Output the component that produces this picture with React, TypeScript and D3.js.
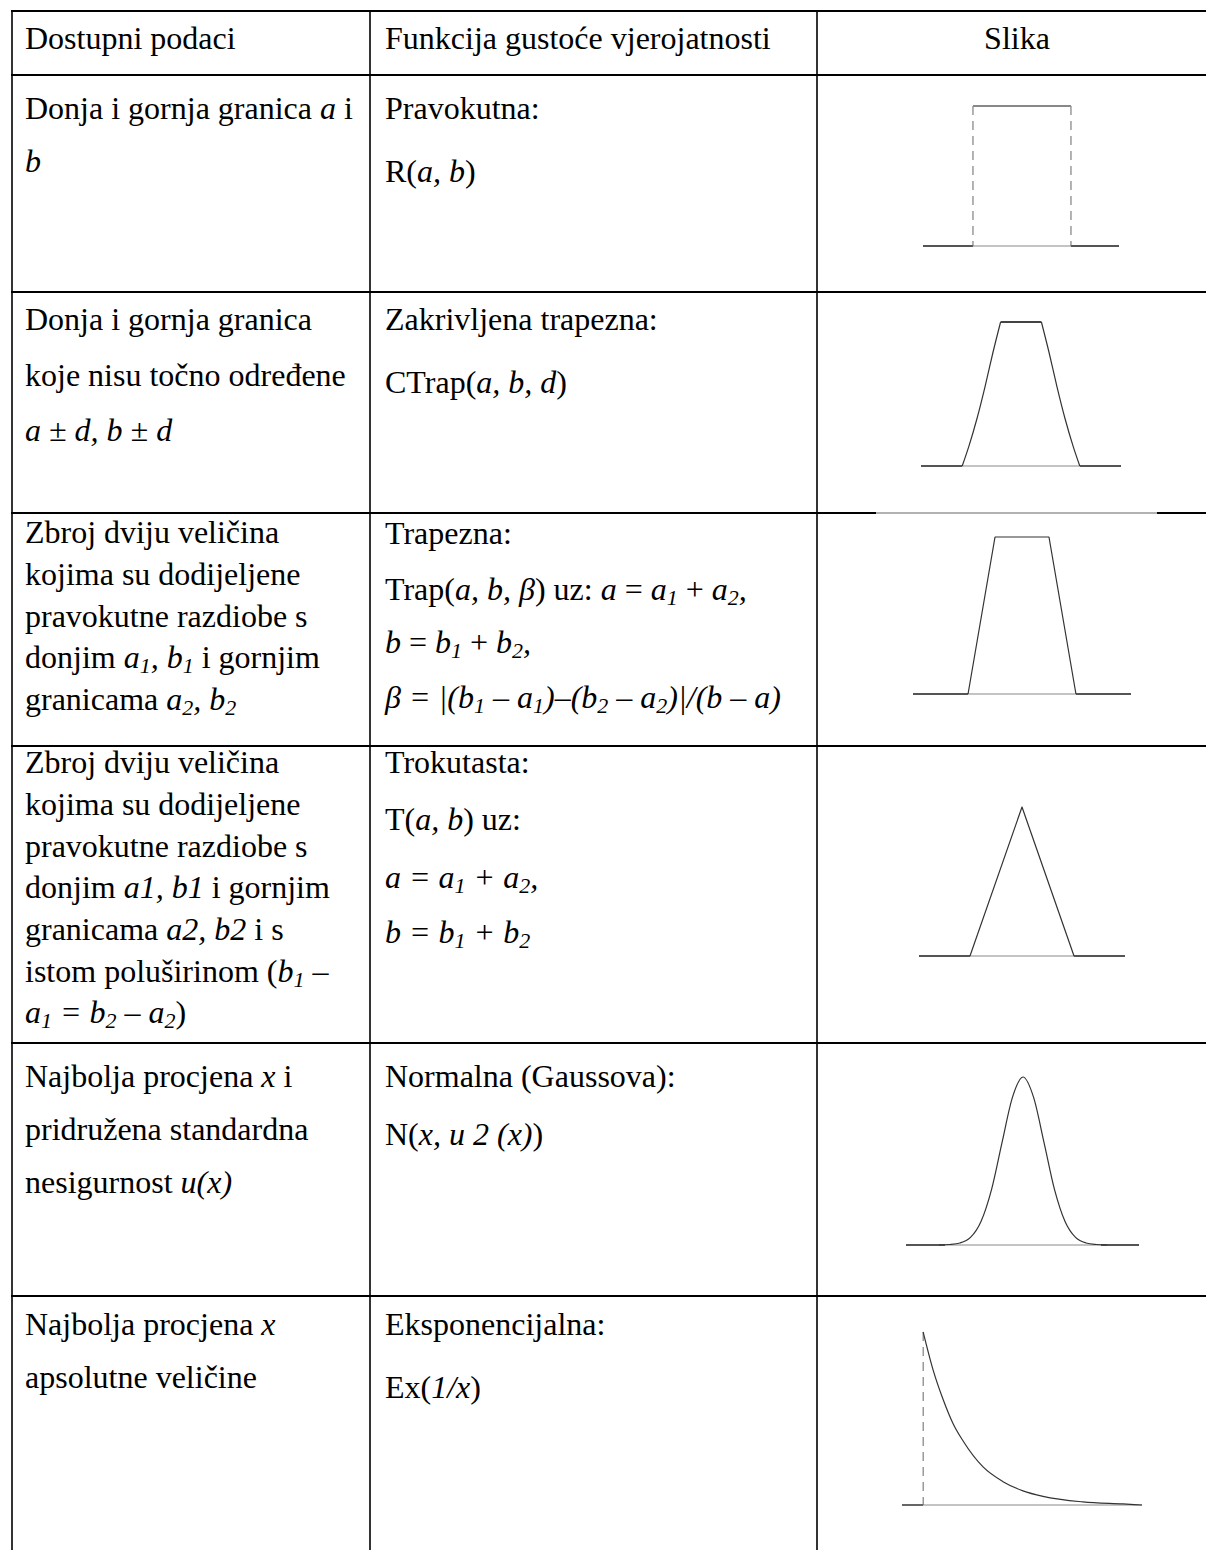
import React from 'react';
import * as d3 from 'd3';

// ---------- text content ----------
type Seg = [string, string]; // [text, style]  n = normal, i = italic, s = italic subscript
type Line = string | Seg[];

const headers: string[] = ['Dostupni podaci', 'Funkcija gustoće vjerojatnosti', 'Slika'];

const availableData: Line[][] = [
  [[['Donja i gornja granica ', 'n'], ['a', 'i'], [' i', 'n']], [['b', 'i']]],
  ['Donja i gornja granica', 'koje nisu točno određene', [['a ± d, b ± d', 'i']]],
  [
    'Zbroj dviju veličina',
    'kojima su dodijeljene',
    'pravokutne razdiobe s',
    [['donjim ', 'n'], ['a', 'i'], ['1', 's'], [', b', 'i'], ['1', 's'], [' i gornjim', 'n']],
    [['granicama ', 'n'], ['a', 'i'], ['2', 's'], [', b', 'i'], ['2', 's']],
  ],
  [
    'Zbroj dviju veličina',
    'kojima su dodijeljene',
    'pravokutne razdiobe s',
    [['donjim ', 'n'], ['a1, b1', 'i'], [' i gornjim', 'n']],
    [['granicama ', 'n'], ['a2, b2', 'i'], [' i s', 'n']],
    [['istom poluširinom (', 'n'], ['b', 'i'], ['1', 's'], [' –', 'n']],
    [['a', 'i'], ['1', 's'], [' = b', 'i'], ['2', 's'], [' – a', 'i'], ['2', 's'], [')', 'n']],
  ],
  [[['Najbolja procjena ', 'n'], ['x', 'i'], [' i', 'n']], 'pridružena standardna', [['nesigurnost ', 'n'], ['u(x)', 'i']]],
  [[['Najbolja procjena ', 'n'], ['x', 'i']], 'apsolutne veličine'],
];

const densityFunctions: Line[][] = [
  ['Pravokutna:', [['R(', 'n'], ['a, b', 'i'], [')', 'n']]],
  ['Zakrivljena trapezna:', [['CTrap(', 'n'], ['a, b, d', 'i'], [')', 'n']]],
  [
    'Trapezna:',
    [['Trap(', 'n'], ['a, b, β', 'i'], [') uz: ', 'n'], ['a', 'i'], [' = ', 'n'], ['a', 'i'], ['1', 's'], [' + ', 'n'], ['a', 'i'], ['2', 's'], [',', 'i']],
    [['b', 'i'], [' = ', 'n'], ['b', 'i'], ['1', 's'], [' + ', 'n'], ['b', 'i'], ['2', 's'], [',', 'i']],
    [['β = |(b', 'i'], ['1', 's'], [' – a', 'i'], ['1', 's'], [')–(b', 'i'], ['2', 's'], [' – a', 'i'], ['2', 's'], [')|/(b – a)', 'i']],
  ],
  [
    'Trokutasta:',
    [['T(', 'n'], ['a, b', 'i'], [') uz:', 'n']],
    [['a = a', 'i'], ['1', 's'], [' + a', 'i'], ['2', 's'], [',', 'i']],
    [['b = b', 'i'], ['1', 's'], [' + b', 'i'], ['2', 's']],
  ],
  ['Normalna (Gaussova):', [['N(', 'n'], ['x, u 2 (x)', 'i'], [')', 'n']]],
  ['Eksponencijalna:', [['Ex(', 'n'], ['1/x', 'i'], [')', 'n']]],
];

// ---------- figure data (abstract units) ----------
const rectExtent = [-0.51, 1.49];
const rectSupport = [0, 1];
const rectTopX = [0, 1];
const rectTopY = [1, 1];
const rectDashedX = [0, 1];

const ctrapExtent = [-2.5, 2.5];
const ctrapSupport = [-1.47, 1.47];
const ctrapLeftX = [-1.47, -1.3, -1.1, -0.9, -0.7, -0.51];
const ctrapLeftY = [0, 0.14, 0.33, 0.55, 0.79, 1];
const ctrapTopX = [-0.51, 0.51];
const ctrapTopY = [1, 1];
const ctrapRightX = [0.51, 0.7, 0.9, 1.1, 1.3, 1.47];
const ctrapRightY = [1, 0.79, 0.55, 0.33, 0.14, 0];

const trapExtent = [-2.02, 2.02];
const trapSupport = [-1, 1];
const trapX = [-1, -0.5, 0.5, 1];
const trapY = [0, 1, 1, 0];

const triExtent = [-1.98, 1.98];
const triSupport = [-1, 1];
const triX = [-1, 0, 1];
const triY = [0, 1, 0];

const gaussExtent = [-5.57, 5.52];
const gaussSupport = [-3.7, 3.7];
const gaussX = [-4, -3.5, -3, -2.5, -2, -1.5, -1, -0.5, 0, 0.5, 1, 1.5, 2, 2.5, 3, 3.5, 4];
const gaussY = [0, 0.003, 0.012, 0.045, 0.14, 0.33, 0.61, 0.88, 1, 0.88, 0.61, 0.33, 0.14, 0.045, 0.012, 0.003, 0];

const expExtent = [-0.53, 5.48];
const expSupport = [0, 5.48];
const expX = [0, 0.25, 0.5, 0.75, 1, 1.5, 2, 2.5, 3, 4, 5, 5.48];
const expY = [1, 0.78, 0.61, 0.47, 0.37, 0.22, 0.135, 0.082, 0.05, 0.018, 0.006, 0];
const expDashedX = [0];

// ---------- layout ----------
const FONT = '"Liberation Serif", "Times New Roman", Times, serif';
const FS = 32;
const colEdges = [12, 370, 817, 1206];
const rowEdges = [11, 75, 292, 513, 746, 1043, 1296];
const headerBaseline = 49;
const col1X = 25;
const col2X = 385;
const col3Center = 1017;
const col1Baselines = [
  [119, 172],
  [330, 386, 441],
  [543, 585, 627, 668, 710],
  [773, 815, 857, 898, 940, 982, 1023],
  [1087, 1140, 1193],
  [1335, 1388],
];
const col2Baselines = [
  [119, 182],
  [330, 393],
  [544, 600, 653, 708],
  [773, 830, 888, 943],
  [1087, 1145],
  [1335, 1398],
];

type Piece = { x: number[]; y: number[]; kind: 'curve' | 'flat' | 'smooth' };
type Fig = {
  extent: number[];
  support: number[];
  pieces: Piece[];
  dashed: number[];
  box: { x0: number; x1: number; yBase: number; yTop: number };
};

const figures: Fig[] = [
  {
    extent: rectExtent, support: rectSupport, dashed: rectDashedX,
    pieces: [{ x: rectTopX, y: rectTopY, kind: 'flat' }],
    box: { x0: 923, x1: 1119, yBase: 246, yTop: 106 },
  },
  {
    extent: ctrapExtent, support: ctrapSupport, dashed: [],
    pieces: [
      { x: ctrapLeftX, y: ctrapLeftY, kind: 'smooth' },
      { x: ctrapTopX, y: ctrapTopY, kind: 'flat' },
      { x: ctrapRightX, y: ctrapRightY, kind: 'smooth' },
    ],
    box: { x0: 921, x1: 1121, yBase: 466, yTop: 322 },
  },
  {
    extent: trapExtent, support: trapSupport, dashed: [],
    pieces: [{ x: trapX, y: trapY, kind: 'curve' }],
    box: { x0: 913, x1: 1131, yBase: 694, yTop: 537 },
  },
  {
    extent: triExtent, support: triSupport, dashed: [],
    pieces: [{ x: triX, y: triY, kind: 'curve' }],
    box: { x0: 919, x1: 1125, yBase: 956, yTop: 807 },
  },
  {
    extent: gaussExtent, support: gaussSupport, dashed: [],
    pieces: [{ x: gaussX, y: gaussY, kind: 'smooth' }],
    box: { x0: 906, x1: 1139, yBase: 1245, yTop: 1077 },
  },
  {
    extent: expExtent, support: expSupport, dashed: expDashedX,
    pieces: [{ x: expX, y: expY, kind: 'smooth' }],
    box: { x0: 902, x1: 1142, yBase: 1505, yTop: 1332 },
  },
];

function TextLine({ x, y, line, anchor }: { x: number; y: number; line: Line; anchor?: string }) {
  const segs: Seg[] = typeof line === 'string' ? [[line, 'n']] : line;
  let shift = 0;
  return (
    <text x={x} y={y} fontFamily={FONT} fontSize={FS} textAnchor={anchor || 'start'} fill="#000" style={{ whiteSpace: 'pre' }}>
      {segs.map(([t, s], i) => {
        const sub = s === 's';
        const target = sub ? 5 : 0;
        const dy = target - shift;
        shift = target;
        return (
          <tspan key={i} dy={dy !== 0 ? dy : undefined} fontStyle={s === 'n' ? 'normal' : 'italic'} fontSize={sub ? 22 : undefined}>
            {t}
          </tspan>
        );
      })}
    </text>
  );
}

function Figure({ fig }: { fig: Fig }) {
  const xs = d3.scaleLinear().domain([fig.extent[0], fig.extent[1]]).range([fig.box.x0, fig.box.x1]);
  const ys = d3.scaleLinear().domain([0, 1]).range([fig.box.yBase, fig.box.yTop]);
  const base = ys(0);
  return (
    <g>
      <line x1={xs(fig.extent[0])} x2={xs(fig.support[0])} y1={base} y2={base} stroke="#555" strokeWidth={1.8} />
      <line x1={xs(fig.support[1])} x2={xs(fig.extent[1])} y1={base} y2={base} stroke="#555" strokeWidth={1.8} />
      <line x1={xs(fig.support[0])} x2={xs(fig.support[1])} y1={base} y2={base} stroke="#b0b0b0" strokeWidth={1.3} />
      {fig.dashed.map((dx, i) => (
        <line key={'d' + i} x1={xs(dx)} x2={xs(dx)} y1={ys(1)} y2={base} stroke="#666" strokeWidth={1} strokeDasharray="9,6" />
      ))}
      {fig.pieces.map((p, i) => {
        const pts: [number, number][] = p.x.map((v, k) => [v, p.y[k]]);
        const gen = d3
          .line<[number, number]>()
          .x((d) => xs(d[0]))
          .y((d) => ys(d[1]))
          .curve(p.kind === 'smooth' ? d3.curveMonotoneX : d3.curveLinear);
        const flat = p.kind === 'flat';
        return (
          <path
            key={i}
            d={gen(pts) || ''}
            fill="none"
            stroke={flat ? (fig.dashed.length ? '#888' : '#444') : '#333'}
            strokeWidth={flat ? 1.8 : 1.2}
            strokeLinejoin="round"
          />
        );
      })}
    </g>
  );
}

export default function App() {
  const W = 1206;
  const H = 1550;
  return (
    <svg width={W} height={H} style={{ position: 'absolute', left: 0, top: 0, background: '#fff' }}>
      <rect x={0} y={0} width={W} height={H} fill="#fff" />
      {rowEdges.map((y, i) => (
        <line key={'h' + i} x1={colEdges[0] - 1} x2={W} y1={y} y2={y} stroke="#000" strokeWidth={2.2} />
      ))}
      {colEdges.slice(0, 3).map((x, i) => (
        <line key={'v' + i} x1={x} x2={x} y1={rowEdges[0]} y2={H} stroke="#000" strokeWidth={1.6} />
      ))}
      <line x1={876} x2={1157} y1={rowEdges[3]} y2={rowEdges[3]} stroke="#fff" strokeWidth={2.6} />
      <line x1={876} x2={1157} y1={rowEdges[3]} y2={rowEdges[3]} stroke="#999" strokeWidth={1.4} />

      <TextLine x={col1X} y={headerBaseline} line={headers[0]} />
      <TextLine x={col2X} y={headerBaseline} line={headers[1]} />
      <TextLine x={col3Center} y={headerBaseline} line={headers[2]} anchor="middle" />

      {availableData.map((lines, r) =>
        lines.map((ln, k) => <TextLine key={`a${r}-${k}`} x={col1X} y={col1Baselines[r][k]} line={ln} />)
      )}
      {densityFunctions.map((lines, r) =>
        lines.map((ln, k) => <TextLine key={`b${r}-${k}`} x={col2X} y={col2Baselines[r][k]} line={ln} />)
      )}

      {figures.map((f, i) => (
        <Figure key={i} fig={f} />
      ))}
    </svg>
  );
}
